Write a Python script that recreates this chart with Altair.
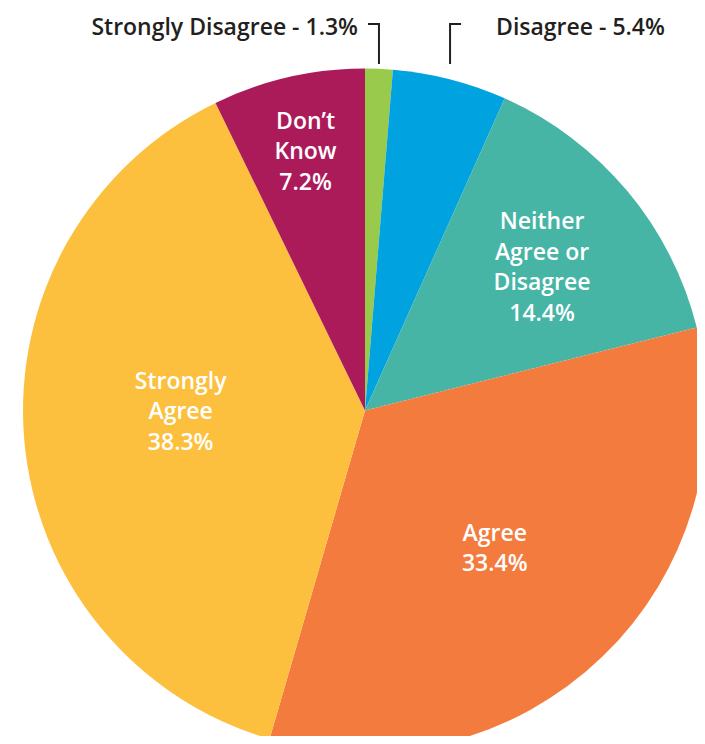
import altair as alt
import pandas as pd

categories = ["Strongly Disagree", "Disagree", "Neither Agree or Disagree",
              "Agree", "Strongly Agree", "Don't Know"]
values = [1.3, 5.4, 14.4, 33.4, 38.3, 7.2]
labels = ["Strongly Disagree - 1.3%", "Disagree - 5.4%",
          "Neither\nAgree or\nDisagree\n14.4%", "Agree\n33.4%",
          "Strongly\nAgree\n38.3%", "Don\u2019t\nKnow\n7.2%"]
colors = ["#9aca4b", "#00a3e0", "#46b5a6", "#f47b3e", "#fdc03e", "#ab1b5a"]

df = pd.DataFrame({"category": categories, "value": values, "label": labels,
                   "order": list(range(len(categories)))})

CX, CY, R = 357, 402.5, 342
FONT = "Open Sans"
LH = 30.5

base = (alt.Chart(df)
        .transform_window(cum="sum(value)", sort=[alt.SortField("order")], frame=[None, 0])
        .transform_joinaggregate(total="sum(value)")
        .transform_calculate(mid="(datum.cum - datum.value/2) / datum.total * 2 * PI")
        .transform_calculate(rimx=f"{CX} + {R} * sin(datum.mid)"))

pie = alt.Chart(df).mark_arc(stroke=None).encode(
    theta=alt.Theta("value:Q", stack=True),
    color=alt.Color("category:N", scale=alt.Scale(domain=categories, range=colors), legend=None),
    order=alt.Order("order:Q"),
    x=alt.value(CX), y=alt.value(CY), radius=alt.value(R),
)

inner = {  # category: (label radius, extra dy, line count)
    "Don't Know": (265, 0, 3),
    "Neither Agree or Disagree": (231, 6, 4),
    "Agree": (187, 4, 2),
    "Strongly Agree": (185, -14, 3),
}
layers = [pie]
for cat, (rad, dy, n) in inner.items():
    layers.append(
        base.transform_filter(alt.datum.category == cat)
        .mark_text(color="white", font=FONT, fontSize=23, fontWeight=600,
                   lineBreak="\n", lineHeight=LH, align="center",
                   baseline="middle", dy=dy - (n - 1) * LH / 2)
        .encode(theta=alt.Theta("mid:Q", scale=None), radius=alt.value(rad),
                x=alt.value(CX), y=alt.value(CY), text="label:N")
    )

# outer labels with leader lines
for cat, side in [("Strongly Disagree", -1), ("Disagree", 1)]:
    sel = base.transform_filter(alt.datum.category == cat)
    layers.append(sel.mark_rule(color="#231f20", strokeWidth=2).encode(
        x=alt.X("rimx:Q", scale=None), y=alt.value(15), y2=alt.value(56)))
    layers.append(sel.transform_calculate(tx=f"datum.rimx + {side} * 11")
                  .mark_rule(color="#231f20", strokeWidth=2).encode(
        x=alt.X("rimx:Q", scale=None), x2="tx:Q", y=alt.value(16)))
    layers.append(sel.mark_text(color="#231f20", font=FONT, fontSize=23, fontWeight=600,
                                align="right" if side < 0 else "left", baseline="middle",
                                dx=-21 if side < 0 else 46).encode(
        x=alt.X("rimx:Q", scale=None), y=alt.value(20), text="label:N"))

chart = alt.layer(*layers).properties(
    width=689, height=728, padding=0, autosize=alt.AutoSizeParams(type="none")
).configure_view(stroke=None)

chart.save("out.html", embed_options={"renderer": "svg", "actions": False})
